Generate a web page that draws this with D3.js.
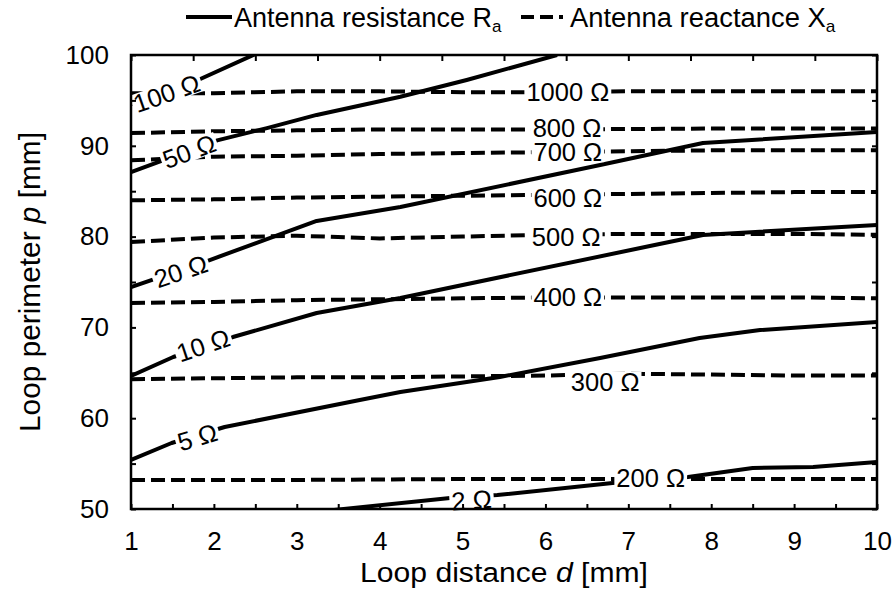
<!DOCTYPE html>
<html>
<head>
<meta charset="utf-8">
<script src="https://cdn.jsdelivr.net/npm/d3@7"></script>
<style>
  body { margin: 0; background: #fff; }
  svg text { font-family: "Liberation Sans", Arial, sans-serif; fill: #000; }
</style>
</head>
<body>
<svg id="chart" width="892" height="601"></svg>
<script>
// Antenna resistance contours: loop distance d [mm] / loop perimeter p [mm]
const resistanceLevels = ['100 Ω', '50 Ω', '20 Ω', '10 Ω', '5 Ω', '2 Ω'];
const resistanceD = [
  [1, 1.75, 2.5],
  [1, 2.04, 2.64, 3.24, 4.25, 5.05, 6.14],
  [1, 1.95, 3.24, 4.25, 6.66, 7.9, 10],
  [1, 1.51, 2.23, 3.24, 4.25, 7.26, 7.9, 10],
  [1, 1.49, 2.13, 3.76, 4.25, 5.45, 6.66, 7.86, 8.59, 10],
  [3.45, 4.85, 5.42, 6.81, 7.72, 8.5, 9.23, 10]
];
const resistanceP = [
  [94.6, 97.0, 100.1],
  [87.1, 90.6, 91.95, 93.4, 95.4, 97.25, 100],
  [74.45, 77.42, 81.72, 83.26, 87.89, 90.31, 91.52],
  [64.65, 66.74, 68.94, 71.59, 73.24, 78.96, 80.18, 81.28],
  [55.4, 57.27, 59.03, 62.0, 62.89, 64.54, 66.63, 68.83, 69.71, 70.6],
  [49.9, 51.21, 51.54, 52.86, 53.52, 54.52, 54.63, 55.18]
];
// label centres [d, p]
const resistanceLabelPos = [[1.43, 95.8], [1.70, 89.4], [1.60, 76.2], [1.87, 68.06], [1.80, 57.93], [5.11, 50.99]];

// Antenna reactance contours
const reactanceLevels = ['1000 Ω', '800 Ω', '700 Ω', '600 Ω', '500 Ω', '400 Ω', '300 Ω', '200 Ω'];
const reactanceD = [1, 2, 3, 4, 5, 6, 7, 8, 9, 10];
const reactanceP = [
  [95.8, 95.8, 96.0, 96.0, 95.9, 95.9, 96.0, 96.0, 96.0, 96.0],
  [91.4, 91.6, 91.7, 91.8, 91.8, 91.8, 91.85, 91.9, 91.9, 91.9],
  [88.4, 88.8, 88.9, 89.1, 89.2, 89.3, 89.4, 89.5, 89.5, 89.5],
  [84.0, 84.1, 84.3, 84.4, 84.5, 84.6, 84.7, 84.8, 84.9, 84.9],
  [79.4, 79.9, 80.1, 79.8, 80.0, 80.2, 80.3, 80.3, 80.3, 80.2],
  [72.7, 72.8, 73.0, 73.1, 73.2, 73.3, 73.3, 73.3, 73.3, 73.2],
  [64.3, 64.4, 64.5, 64.5, 64.6, 64.7, 64.9, 64.8, 64.7, 64.7],
  [53.2, 53.2, 53.2, 53.25, 53.3, 53.3, 53.3, 53.3, 53.3, 53.3]
];
const reactanceLabelPos = [[6.27, 95.93], [6.26, 91.96], [6.27, 89.32], [6.27, 84.31], [6.25, 79.96], [6.27, 73.35], [6.72, 64.04], [7.27, 53.47]];

// axis ticks
const xTicks = d3.range(1, 10.001, 0.5);
const xTopTicks = d3.range(13).map(i => 1 + i * 0.75);
const yTicks = d3.range(50, 100.001, 5);

const width = 892, height = 601;
const margin = { top: 55, right: 15, bottom: 92, left: 131 };

const svg = d3.select('#chart');

const x = d3.scaleLinear().domain([1, 10]).range([margin.left, width - margin.right]);
const y = d3.scaleLinear().domain([50, 100]).range([height - margin.bottom, margin.top]);

svg.append('defs').append('clipPath').attr('id', 'plot-clip')
  .append('rect')
  .attr('x', x(1)).attr('y', y(100))
  .attr('width', x(10) - x(1)).attr('height', y(50) - y(100));

const line = d3.line().x(d => x(d[0])).y(d => y(d[1]));

const plot = svg.append('g').attr('clip-path', 'url(#plot-clip)');

// dashed reactance lines
plot.selectAll('.reactance')
  .data(reactanceP)
  .enter()
  .append('path')
  .attr('class', 'reactance')
  .attr('fill', 'none')
  .attr('stroke', '#000')
  .attr('stroke-width', 4)
  .attr('stroke-dasharray', '14,6')
  .attr('d', p => line(p.map((v, i) => [reactanceD[i], v])));

// solid resistance lines
const resistancePts = resistanceP.map((ps, k) => ps.map((v, i) => [resistanceD[k][i], v]));
plot.selectAll('.resistance')
  .data(resistancePts)
  .enter()
  .append('path')
  .attr('class', 'resistance')
  .attr('fill', 'none')
  .attr('stroke', '#000')
  .attr('stroke-width', 4)
  .attr('stroke-linejoin', 'round')
  .attr('d', line);

// inline labels with white background
const labels = svg.append('g');
function addLabel(text, cx, cy, angle) {
  const g = labels.append('g').attr('transform', `translate(${cx},${cy}) rotate(${angle})`);
  const bg = g.append('rect').attr('fill', '#fff');
  const t = g.append('text')
    .attr('text-anchor', 'middle')
    .attr('dy', '0.36em')
    .attr('font-size', 25.5)
    .text(text);
  const b = t.node().getBBox();
  bg.attr('x', b.x - 2).attr('y', b.y + 4).attr('width', b.width + 4).attr('height', b.height - 8);
}

function slopeAngle(pts, d) {
  let i = pts.findIndex(p => p[0] >= d);
  if (i < 1) i = 1;
  const a = pts[i - 1], b = pts[i];
  return Math.atan2(y(b[1]) - y(a[1]), x(b[0]) - x(a[0])) * 180 / Math.PI;
}

resistanceLevels.forEach((lab, k) => {
  const [d, p] = resistanceLabelPos[k];
  addLabel(lab, x(d), y(p), slopeAngle(resistancePts[k], d));
});
reactanceLevels.forEach((lab, k) => {
  const [d, p] = reactanceLabelPos[k];
  addLabel(lab, x(d), y(p), 0);
});

// axes
function styleAxis(g) {
  g.select('.domain').remove();
  g.selectAll('.tick line').attr('stroke', '#000').attr('stroke-width', 2);
  g.selectAll('.tick text').attr('font-size', 26).attr('fill', '#000');
  g.attr('font-family', null).attr('font-size', null);
}

svg.append('g')
  .attr('transform', `translate(0,${y(50)})`)
  .call(d3.axisBottom(x).tickValues(xTicks).tickSize(-5).tickPadding(23)
    .tickFormat(d => Number.isInteger(d) ? d : ''))
  .call(styleAxis);

svg.append('g')
  .attr('transform', `translate(0,${y(100)})`)
  .call(d3.axisTop(x).tickValues(xTopTicks).tickSize(-6).tickFormat(''))
  .call(styleAxis);

svg.append('g')
  .attr('transform', `translate(${x(1)},0)`)
  .call(d3.axisLeft(y).tickValues(yTicks).tickSize(-5).tickPadding(22)
    .tickFormat(d => d % 10 === 0 ? d : ''))
  .call(styleAxis);

svg.append('g')
  .attr('transform', `translate(${x(10)},0)`)
  .call(d3.axisRight(y).tickValues(yTicks).tickSize(-5).tickFormat(''))
  .call(styleAxis);

svg.append('rect')
  .attr('x', x(1)).attr('y', y(100))
  .attr('width', x(10) - x(1)).attr('height', y(50) - y(100))
  .attr('fill', 'none')
  .attr('stroke', '#000')
  .attr('stroke-width', 2.5);

// squeeze / stretch a text horizontally to a target width, about its anchor
function fitWidth(t, target, x0) {
  const w = t.node().getBBox().width;
  const s = target / w;
  t.attr('transform', `translate(${x0},0) scale(${s},1) translate(${-x0},0)`);
}

// axis titles
const xTitle = svg.append('text')
  .attr('x', (x(1) + x(10)) / 2)
  .attr('y', 582)
  .attr('text-anchor', 'middle')
  .attr('font-size', 27);
xTitle.append('tspan').text('Loop distance ');
xTitle.append('tspan').attr('font-style', 'italic').text('d');
xTitle.append('tspan').text(' [mm]');
fitWidth(xTitle, 288, (x(1) + x(10)) / 2);

const yTitleG = svg.append('g')
  .attr('transform', `translate(40,${(y(50) + y(100)) / 2}) rotate(-90)`);
const yTitle = yTitleG.append('text')
  .attr('text-anchor', 'middle')
  .attr('font-size', 29);
yTitle.append('tspan').text('Loop perimeter ');
yTitle.append('tspan').attr('font-style', 'italic').text('p');
yTitle.append('tspan').text(' [mm]');
fitWidth(yTitle, 300, 0);

// legend
const legend = svg.append('g');
legend.append('line')
  .attr('x1', 186).attr('x2', 232).attr('y1', 17).attr('y2', 17)
  .attr('stroke', '#000').attr('stroke-width', 4);
const leg1 = legend.append('text').attr('x', 234).attr('y', 27).attr('font-size', 27);
leg1.append('tspan').text('Antenna resistance R');
leg1.append('tspan').attr('font-size', 17).attr('dy', 5).text('a');
fitWidth(leg1, 268, 234);

legend.append('line')
  .attr('x1', 521).attr('x2', 568).attr('y1', 17).attr('y2', 17)
  .attr('stroke', '#000').attr('stroke-width', 4)
  .attr('stroke-dasharray', '13,6,13,6,4,5');
const leg2 = legend.append('text').attr('x', 570).attr('y', 27).attr('font-size', 27);
leg2.append('tspan').text('Antenna reactance X');
leg2.append('tspan').attr('font-size', 17).attr('dy', 5).text('a');
fitWidth(leg2, 266, 570);
</script>
</body>
</html>
